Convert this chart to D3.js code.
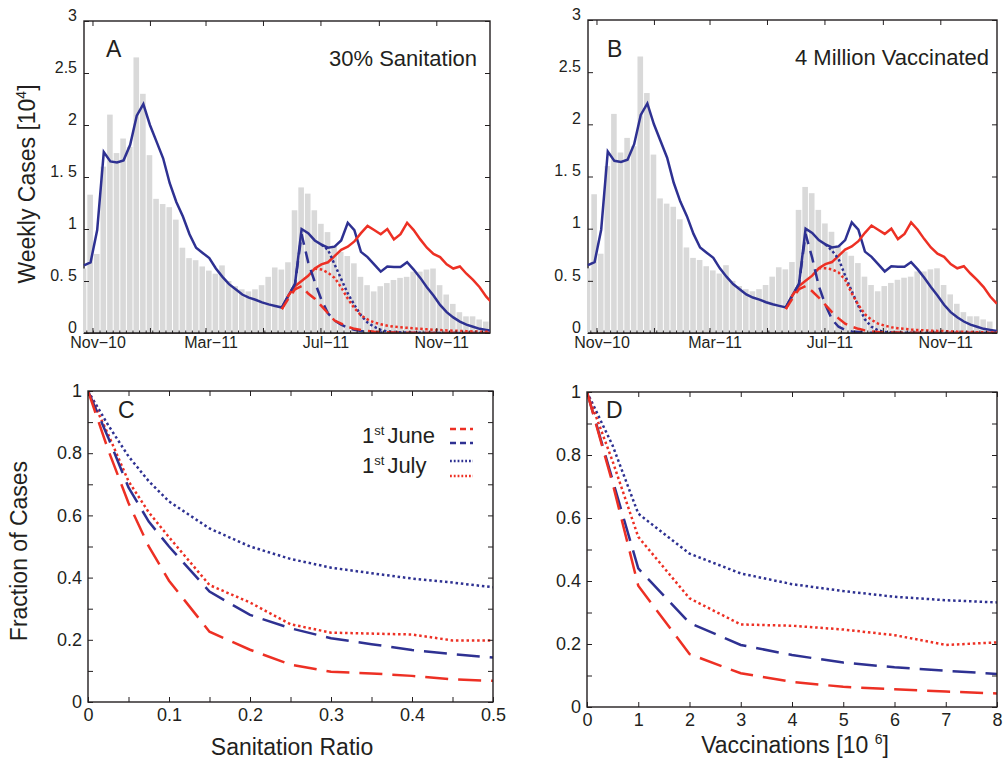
<!DOCTYPE html>
<html>
<head>
<meta charset="utf-8">
<script src="https://cdnjs.cloudflare.com/ajax/libs/d3/7.8.5/d3.min.js"></script>
<style>
  body { margin: 0; background: #fff; }
  text { font-family: "Liberation Sans", Arial, Helvetica, sans-serif; fill: #231f20; }
</style>
</head>
<body>
<div id="container"></div>
<script>
/* CONSTANTS AND GLOBALS */

const width = 1003
const height = 763
const blue = "#2e3192", red = "#ed3024", ink = "#231f20", barGray = "#d9d9d9"

/* DATA */

// weekly reported cases [10^4], one bar per week, first bar starts 19 Oct 2010
const barFirstWeek = new Date(2010, 9, 19)
const weeklyCases = [0.62, 1.33, 0.76, 1.60, 2.10, 1.73, 1.87, 1.79, 2.65, 2.30,
  1.71, 1.29, 1.24, 1.21, 1.09, 0.82, 0.72, 0.70, 0.64, 0.60,
  0.57, 0.65, 0.50, 0.45, 0.42, 0.40, 0.42, 0.46, 0.54, 0.63,
  0.61, 0.68, 1.18, 1.40, 1.34, 1.18, 1.05, 0.97, 0.84, 0.78,
  0.74, 0.67, 0.54, 0.46, 0.40, 0.45, 0.48, 0.51, 0.53, 0.54,
  0.59, 0.59, 0.61, 0.62, 0.46, 0.37, 0.28, 0.20, 0.16, 0.16,
  0.13, 0.11]

// model output, one point per week from 23 Oct 2010 (week index 0)
const modelFirstWeek = new Date(2010, 9, 23)
const blueModel = [0.65, 0.68, 0.99, 1.74, 1.65, 1.64, 1.66, 1.81, 2.09, 2.20,
  2.00, 1.84, 1.68, 1.44, 1.26, 1.12, 0.95, 0.82, 0.77, 0.72,
  0.62, 0.54, 0.47, 0.42, 0.37, 0.34, 0.32, 0.295, 0.275, 0.26,
  0.245, 0.36, 0.47, 1.00, 0.96, 0.89, 0.85, 0.82, 0.83, 0.89,
  1.06, 0.99, 0.78, 0.73, 0.66, 0.59, 0.64, 0.635, 0.635, 0.68,
  0.61, 0.53, 0.44, 0.36, 0.27, 0.20, 0.15, 0.11, 0.08, 0.06,
  0.04, 0.03, 0.02]
const redModelStart = 30
const redModel = [0.23, 0.36, 0.45, 0.50, 0.55, 0.62, 0.66, 0.68, 0.74, 0.80,
  0.83, 0.88, 0.96, 1.03, 0.99, 0.95, 1.00, 0.90, 0.95, 1.06,
  0.99, 0.90, 0.82, 0.76, 0.73, 0.66, 0.62, 0.64, 0.57, 0.51,
  0.44, 0.35, 0.28]

// interventions: June ones start at week 30, July ones at week 35 / 36
const juneStart = 30, julyBlueStart = 36, julyRedStart = 35

// 30% sanitation
const sanJuneBlue = [0.245, 0.36, 0.47, 0.95, 0.68, 0.49, 0.32, 0.19, 0.12, 0.08,
  0.05, 0.03, 0.02, 0.012, 0.008, 0.005, 0.004, 0.003, 0.002, 0.002,
  0.001, 0.001, 0.001, 0, 0, 0, 0, 0, 0, 0, 0, 0, 0]
const sanJuneRed = [0.23, 0.33, 0.42, 0.45, 0.38, 0.33, 0.26, 0.19, 0.12, 0.09,
  0.06, 0.04, 0.03, 0.02, 0.012, 0.009, 0.007, 0.005, 0.004, 0.003,
  0.003, 0.002, 0.002, 0.001, 0.001, 0.001, 0.001, 0, 0, 0, 0, 0, 0]
const sanJulyBlue = [0.85, 0.80, 0.66, 0.52, 0.38, 0.27, 0.17, 0.10, 0.06, 0.03,
  0.015, 0.01, 0.006, 0.004, 0.003, 0.002, 0.001, 0.001, 0, 0,
  0, 0, 0, 0, 0, 0, 0]
const sanJulyRed = [0.62, 0.61, 0.58, 0.53, 0.44, 0.33, 0.24, 0.17, 0.13, 0.10,
  0.085, 0.07, 0.06, 0.055, 0.05, 0.045, 0.04, 0.035, 0.03, 0.028,
  0.025, 0.022, 0.02, 0.018, 0.015, 0.013, 0.012, 0.01]

// 4 million vaccinated
const vacJuneBlue = [0.245, 0.36, 0.47, 0.95, 0.72, 0.45, 0.27, 0.13, 0.06, 0.03,
  0.015, 0.01, 0.005, 0.003, 0.002, 0.001, 0.001, 0, 0, 0,
  0, 0, 0, 0, 0, 0, 0, 0, 0, 0, 0, 0, 0]
const vacJuneRed = [0.23, 0.33, 0.42, 0.45, 0.40, 0.34, 0.27, 0.20, 0.14, 0.09,
  0.06, 0.04, 0.025, 0.015, 0.01, 0.007, 0.005, 0.004, 0.003, 0.002,
  0.002, 0.001, 0.001, 0.001, 0, 0, 0, 0, 0, 0, 0, 0, 0]
const vacJulyBlue = [0.85, 0.79, 0.71, 0.55, 0.40, 0.26, 0.13, 0.06, 0.025, 0.01,
  0.005, 0.003, 0.002, 0.001, 0, 0, 0, 0, 0, 0,
  0, 0, 0, 0, 0, 0, 0]
const vacJulyRed = [0.62, 0.62, 0.61, 0.58, 0.51, 0.38, 0.27, 0.18, 0.125, 0.09,
  0.07, 0.055, 0.045, 0.04, 0.033, 0.028, 0.025, 0.022, 0.02, 0.018,
  0.015, 0.013, 0.011, 0.01, 0.008, 0.006, 0.005, 0.004]

// time axis
const axisStart = new Date(2010, 9, 23)
const axisEnd = new Date(2011, 11, 28)
const monthTicks = [new Date(2010, 10, 1), new Date(2011, 0, 1), new Date(2011, 2, 1),
  new Date(2011, 4, 1), new Date(2011, 6, 1), new Date(2011, 8, 1), new Date(2011, 10, 1)]
const monthTickLabels = ["Nov\u221210", "", "Mar\u221211", "", "Jul\u221211", "", "Nov\u221211"]
const caseTicks = [0, 0.5, 1, 1.5, 2, 2.5, 3]
const caseTickLabels = ["0", "0. 5", "1", "1. 5", "2", "2.5", "3"]

// panel C: fraction of cases vs sanitation ratio
const sanitationRatio = [0, 0.025, 0.05, 0.075, 0.1, 0.15, 0.2, 0.25, 0.3, 0.35, 0.4, 0.45, 0.5]
const fracSanJuneRed = [1, 0.81, 0.64, 0.50, 0.39, 0.226, 0.168, 0.12, 0.097, 0.092, 0.084, 0.073, 0.068]
const fracSanJuneBlue = [1, 0.85, 0.69, 0.58, 0.50, 0.355, 0.28, 0.237, 0.205, 0.186, 0.167, 0.154, 0.143]
const fracSanJulyRed = [1, 0.86, 0.71, 0.61, 0.53, 0.376, 0.32, 0.25, 0.223, 0.22, 0.217, 0.198, 0.198]
const fracSanJulyBlue = [1, 0.89, 0.79, 0.71, 0.645, 0.558, 0.50, 0.46, 0.432, 0.414, 0.397, 0.384, 0.369]
const sanitationTicks = [0, 0.05, 0.1, 0.15, 0.2, 0.25, 0.3, 0.35, 0.4, 0.45, 0.5]
const sanitationTickLabels = ["0", "", "0.1", "", "0.2", "", "0.3", "", "0.4", "", "0.5"]

// panel D: fraction of cases vs vaccinations [10^6]
const vaccinations = [0, 0.5, 1, 2, 3, 4, 5, 6, 7, 8]
const fracVacJuneRed = [1, 0.71, 0.385, 0.168, 0.107, 0.080, 0.064, 0.056, 0.049, 0.043]
const fracVacJuneBlue = [1, 0.72, 0.44, 0.267, 0.197, 0.165, 0.141, 0.126, 0.115, 0.105]
const fracVacJulyRed = [1, 0.78, 0.54, 0.345, 0.262, 0.258, 0.246, 0.228, 0.197, 0.205]
const fracVacJulyBlue = [1, 0.83, 0.614, 0.487, 0.424, 0.39, 0.368, 0.35, 0.339, 0.332]
const vaccTicks = [0, 1, 2, 3, 4, 5, 6, 7, 8]
const vaccTickLabels = ["0", "1", "2", "3", "4", "5", "6", "7", "8"]

const fractionTicks = [0, 0.1, 0.2, 0.3, 0.4, 0.5, 0.6, 0.7, 0.8, 0.9, 1]
const fractionTickLabels = ["0", "", "0.2", "", "0.4", "", "0.6", "", "0.8", "", "1"]

/* SVG */

const svg = d3.select("#container")
  .append("svg")
  .attr("width", width)
  .attr("height", height)
  .style("background-color", "white")

const weekOf = (start, n) => d3.timeDay.offset(start, 7 * n)

function styleAxis(sel, size) {
  sel.attr("color", ink)
  sel.select(".domain").remove()
  sel.selectAll(".tick line").attr("stroke-width", 1)
  sel.selectAll("text")
    .attr("font-size", size)
    .attr("font-family", '"Liberation Sans", Arial, sans-serif')
    .attr("fill", ink)
}

/* TOP PANELS: weekly cases */

function casePanel(p, id, letter, title, titleX, june, july) {
  const g = svg.append("g").attr("transform", `translate(${p.x},${p.y})`)
  const x = d3.scaleTime().domain([axisStart, axisEnd]).range([0, 406])
  const y = d3.scaleLinear().domain([0, 3]).range([p.h, 0])

  g.append("clipPath").attr("id", id)
    .append("rect").attr("x", -1).attr("y", 0).attr("width", p.w + 1).attr("height", p.h)

  g.append("rect").attr("width", p.w).attr("height", p.h)
    .attr("fill", "none").attr("stroke", ink).attr("stroke-width", 1.4)

  const plot = g.append("g").attr("clip-path", `url(#${id})`)

  plot.selectAll(".bar")
    .data(weeklyCases)
    .join("rect")
    .attr("class", "bar")
    .attr("x", (d, k) => x(weekOf(barFirstWeek, k)) + 0.5)
    .attr("width", (d, k) => x(weekOf(barFirstWeek, k + 1)) - x(weekOf(barFirstWeek, k)) - 1)
    .attr("y", d => y(d))
    .attr("height", d => p.h - y(d))
    .attr("fill", barGray)

  const line = d3.line().x(d => x(d.date)).y(d => y(d.v))
  const series = (values, start) => values.map((v, j) => ({ date: weekOf(modelFirstWeek, start + j), v }))

  const curves = [
    { values: blueModel, start: 0, color: blue, dash: null },
    { values: redModel, start: redModelStart, color: red, dash: null },
    { values: june.blue, start: juneStart, color: blue, dash: "12,7" },
    { values: july.blue, start: julyBlueStart, color: blue, dash: "2.5,2.5" },
    { values: june.red, start: juneStart, color: red, dash: "12,7" },
    { values: july.red, start: julyRedStart, color: red, dash: "2.5,2.5" }
  ]
  plot.selectAll(".curve")
    .data(curves)
    .join("path")
    .attr("class", "curve")
    .attr("d", c => line(series(c.values, c.start)))
    .attr("fill", "none")
    .attr("stroke", c => c.color)
    .attr("stroke-width", 2.5)
    .attr("stroke-dasharray", c => c.dash)

  // bottom edge again on top of the bars
  g.append("line").attr("x1", 0).attr("x2", p.w).attr("y1", p.h).attr("y2", p.h)
    .attr("stroke", ink).attr("stroke-width", 1.4)

  // weekly minor ticks
  g.selectAll(".minor")
    .data(weeklyCases)
    .join("line")
    .attr("class", "minor")
    .attr("x1", (d, k) => x(weekOf(barFirstWeek, k)))
    .attr("x2", (d, k) => x(weekOf(barFirstWeek, k)))
    .attr("y1", p.h).attr("y2", p.h - 2.5)
    .attr("stroke", ink).attr("stroke-width", 1)
    .style("display", (d, k) => x(weekOf(barFirstWeek, k)) < 0 ? "none" : null)

  g.append("g").attr("transform", `translate(0,${p.h})`)
    .call(d3.axisBottom(x).tickValues(monthTicks).tickSizeInner(-5).tickSizeOuter(0)
      .tickPadding(4).tickFormat((d, i) => monthTickLabels[i]))
    .call(a => styleAxis(a, 16))
    .selectAll("text").attr("dx", 5)
  g.append("g")
    .call(d3.axisTop(x).tickValues(monthTicks).tickSizeInner(-5).tickSizeOuter(0).tickFormat(""))
    .call(a => styleAxis(a, 16))
  g.append("g")
    .call(d3.axisLeft(y).tickValues(caseTicks).tickSizeInner(-5).tickSizeOuter(0)
      .tickPadding(7).tickFormat((d, i) => caseTickLabels[i]))
    .call(a => styleAxis(a, 16))
    .selectAll("text").attr("dy", "-0.05em")
  g.append("g").attr("transform", `translate(${p.w},0)`)
    .call(d3.axisRight(y).tickValues(caseTicks).tickSizeInner(-5).tickSizeOuter(0).tickFormat(""))
    .call(a => styleAxis(a, 16))

  g.append("text").attr("x", letter.x).attr("y", letter.y)
    .attr("font-size", 23).text(letter.t)
  g.append("text").attr("x", titleX).attr("y", 45).attr("text-anchor", "end")
    .attr("font-size", 22).text(title)
}

casePanel({ x: 84, y: 21, w: 406, h: 312 }, "clipA", { t: "A", x: 22, y: 36 },
  "30% Sanitation", 393,
  { blue: sanJuneBlue, red: sanJuneRed }, { blue: sanJulyBlue, red: sanJulyRed })
casePanel({ x: 588, y: 20, w: 409, h: 313 }, "clipB", { t: "B", x: 19, y: 37 },
  "4 Million Vaccinated", 401,
  { blue: vacJuneBlue, red: vacJuneRed }, { blue: vacJulyBlue, red: vacJulyRed })

/* BOTTOM PANELS: fraction of cases */

function fractionPanel(p, id, letter, xMax, xs, xTicks, xTickLabels, fr) {
  const g = svg.append("g").attr("transform", `translate(${p.x},${p.y})`)
  const x = d3.scaleLinear().domain([0, xMax]).range([0, p.w])
  const y = d3.scaleLinear().domain([0, 1]).range([p.h, 0])

  g.append("clipPath").attr("id", id)
    .append("rect").attr("width", p.w).attr("height", p.h)

  const line = d3.line().x((d, i) => x(xs[i])).y(d => y(d))
  const curves = [
    { values: fr.julyBlue, color: blue, dash: "2.5,2.8" },
    { values: fr.julyRed, color: red, dash: "2.5,2.8" },
    { values: fr.juneBlue, color: blue, dash: "23,10" },
    { values: fr.juneRed, color: red, dash: "23,10" }
  ]
  g.append("g").attr("clip-path", `url(#${id})`)
    .selectAll("path")
    .data(curves)
    .join("path")
    .attr("d", c => line(c.values))
    .attr("fill", "none")
    .attr("stroke", c => c.color)
    .attr("stroke-width", 2.5)
    .attr("stroke-dasharray", c => c.dash)

  g.append("rect").attr("width", p.w).attr("height", p.h)
    .attr("fill", "none").attr("stroke", ink).attr("stroke-width", 1.4)

  g.append("g").attr("transform", `translate(0,${p.h})`)
    .call(d3.axisBottom(x).tickValues(xTicks).tickSizeInner(-5).tickSizeOuter(0)
      .tickPadding(6).tickFormat((d, i) => xTickLabels[i]))
    .call(a => styleAxis(a, 18))
  g.append("g")
    .call(d3.axisTop(x).tickValues(xTicks).tickSizeInner(-5).tickSizeOuter(0).tickFormat(""))
    .call(a => styleAxis(a, 18))
  g.append("g")
    .call(d3.axisLeft(y).tickValues(fractionTicks).tickSizeInner(-5).tickSizeOuter(0)
      .tickPadding(6).tickFormat((d, i) => fractionTickLabels[i]))
    .call(a => styleAxis(a, 18))
  g.append("g").attr("transform", `translate(${p.w},0)`)
    .call(d3.axisRight(y).tickValues(fractionTicks).tickSizeInner(-5).tickSizeOuter(0).tickFormat(""))
    .call(a => styleAxis(a, 18))

  g.append("text").attr("x", letter.x).attr("y", letter.y)
    .attr("font-size", 23).text(letter.t)
  return g
}

const gC = fractionPanel({ x: 88, y: 391, w: 405, h: 311 }, "clipC", { t: "C", x: 30, y: 27 },
  0.5, sanitationRatio, sanitationTicks, sanitationTickLabels,
  { juneRed: fracSanJuneRed, juneBlue: fracSanJuneBlue, julyRed: fracSanJulyRed, julyBlue: fracSanJulyBlue })
fractionPanel({ x: 587, y: 392, w: 410, h: 315 }, "clipD", { t: "D", x: 19, y: 26 },
  8, vaccinations, vaccTicks, vaccTickLabels,
  { juneRed: fracVacJuneRed, juneBlue: fracVacJuneBlue, julyRed: fracVacJulyRed, julyBlue: fracVacJulyBlue })

/* LEGEND (panel C) */

const legendRows = [
  { label: "June", y: 52, samples: [{ color: red, dash: "6,4", y: 38 }, { color: blue, dash: "6,4", y: 52 }] },
  { label: "July", y: 82, samples: [{ color: blue, dash: "1.8,2", y: 70 }, { color: red, dash: "1.8,2", y: 85 }] }
]
legendRows.forEach(r => {
  const t = gC.append("text").attr("x", 274).attr("y", r.y).attr("font-size", 22)
  t.append("tspan").text("1")
  t.append("tspan").attr("font-size", 13).attr("dy", -8).text("st")
  t.append("tspan").attr("dy", 8).attr("dx", 3).text(r.label)
  r.samples.forEach(s => {
    gC.append("line").attr("x1", 362).attr("x2", 385).attr("y1", s.y).attr("y2", s.y)
      .attr("stroke", s.color).attr("stroke-width", 2.5).attr("stroke-dasharray", s.dash)
  })
})

/* AXIS TITLES */

const yTitle = svg.append("text")
  .attr("transform", "translate(35,184) rotate(-90)")
  .attr("text-anchor", "middle").attr("font-size", 23)
yTitle.append("tspan").text("Weekly Cases [10")
yTitle.append("tspan").attr("font-size", 14).attr("dy", -9).text("4")
yTitle.append("tspan").attr("dy", 9).text("]")

svg.append("text")
  .attr("transform", "translate(27,551) rotate(-90)")
  .attr("text-anchor", "middle").attr("font-size", 23)
  .text("Fraction of Cases")

svg.append("text").attr("x", 292).attr("y", 755)
  .attr("text-anchor", "middle").attr("font-size", 23)
  .text("Sanitation Ratio")

const vTitle = svg.append("text").attr("x", 795).attr("y", 753)
  .attr("text-anchor", "middle").attr("font-size", 23)
vTitle.append("tspan").text("Vaccinations [10 ")
vTitle.append("tspan").attr("font-size", 14).attr("dy", -9).text("6")
vTitle.append("tspan").attr("dy", 9).text("]")
</script>
</body>
</html>
